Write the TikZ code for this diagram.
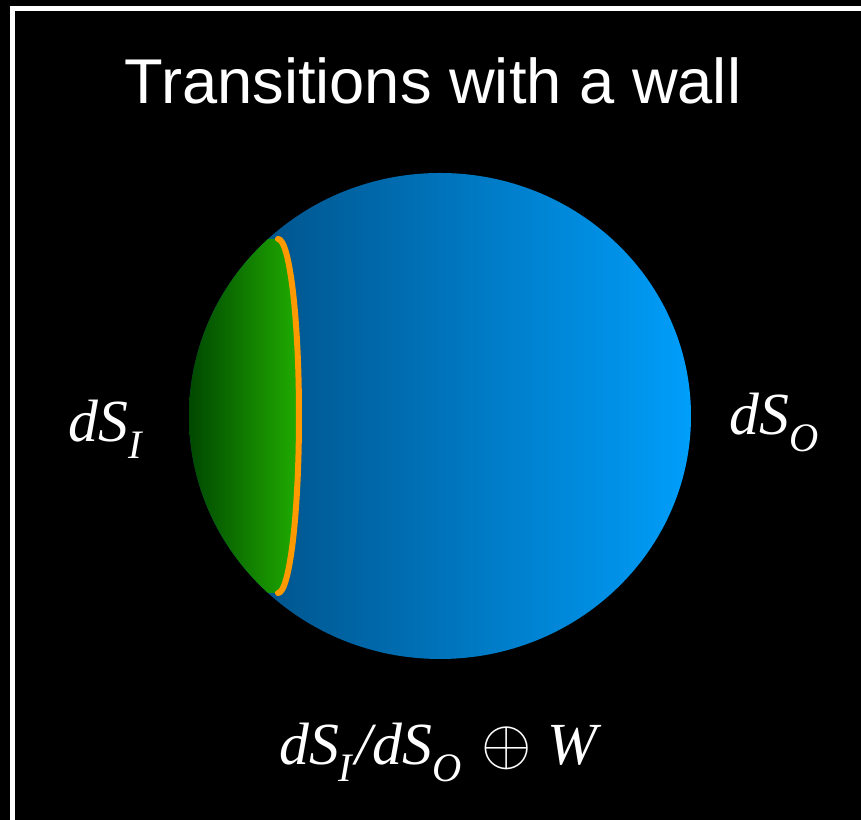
\documentclass[tikz,border=0pt]{standalone}
\usepackage{fontspec}
\usepackage{graphicx}
\setmainfont{Liberation Serif}
\newfontfamily\headfont{Liberation Sans}

\definecolor{skydark}{RGB}{0,72,122}
\definecolor{skylight}{RGB}{0,158,250}
\definecolor{capdark}{RGB}{0,72,0}
\definecolor{caplight}{RGB}{32,172,0}
\definecolor{wallorange}{RGB}{255,153,0}

% lowered subscript for the text-mode labels
\newcommand{\lowsub}[1]{\raisebox{-0.27em}{\fontsize{23}{23}\selectfont #1}\kern0.06em}
% big direct-sum sign
\newcommand{\bigsum}{\scalebox{1.48}{$\oplus$}}

\tikzset{
    mathlabel/.style = {font = {\fontsize{34}{34}\selectfont\itshape}, white, anchor = base, inner sep = 0pt},
}

\begin{document}
\begin{tikzpicture}
        \useasboundingbox[fill=black] (0,0) rectangle (17.22,16.4);
        \clip (0,0) rectangle (17.22,16.4);

        % frame
        \draw[white, line width=0.11cm] (0.25,-1) -- (0.25,16.23) -- (18,16.23);

        \node[font = {\headfont\fontsize{36}{36}\selectfont}, white, anchor = base] (title) at (8.66, 14.32) {Transitions with a wall};

        % outer de Sitter ball
        \shade[left color=skydark, right color=skylight] (8.8,8.08) ellipse [x radius=5.02, y radius=4.86];

        % inner region cut off by the wall
        \begin{scope}
            \clip (8.8,8.08) ellipse [x radius=5.02, y radius=4.86];
            \shade[left color=capdark, right color=caplight] (5.56,11.62) arc[start angle=90, end angle=-90, x radius=0.42, y radius=3.54] -- (3.78,4.54) -- (3.78,11.62) -- cycle;
        \end{scope}
        \draw[wallorange, line width=0.12cm, line cap=round] (5.56,11.62) arc[start angle=90, end angle=-90, x radius=0.42, y radius=3.54];

        \node[mathlabel] (inner) at (2.14, 7.56) {dS\lowsub{I}};
        \node[mathlabel] (outer) at (15.52, 7.7) {dS\lowsub{O}};
        \node[mathlabel] (joint) at (8.76, 1.1) {dS\lowsub{I}/dS\lowsub{O}\kern0.28em\bigsum\kern0.25em W};
    \end{tikzpicture}
\end{document}
